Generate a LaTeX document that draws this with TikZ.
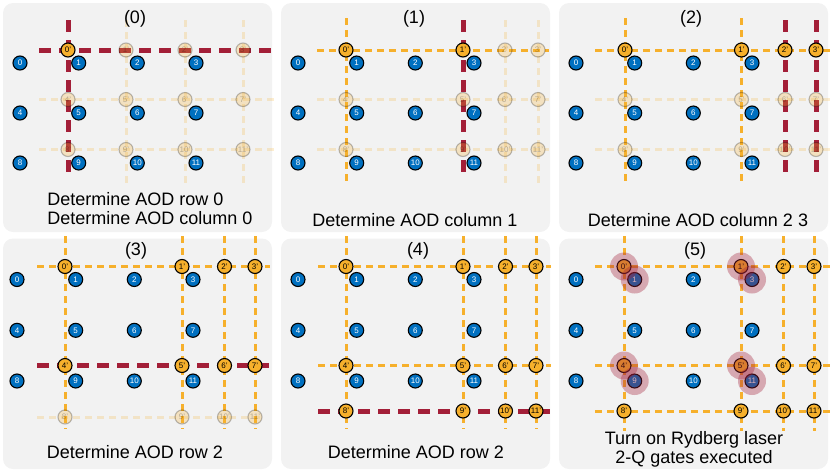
\documentclass[tikz,border=0pt]{standalone}
\usepackage{fontspec}
\setmainfont{Liberation Sans}

\definecolor{panelgray}{HTML}{F2F2F2}
\definecolor{slmblue}{HTML}{0070C0}
\definecolor{aodorange}{HTML}{F6B02C}
\definecolor{pickred}{HTML}{A31F38}

\tikzset{
  panel/.style={fill=panelgray, rounded corners=10pt},
  slm/.style={circle, draw=black, line width=1.1pt, fill=slmblue, text=white,
    minimum size=14pt, inner sep=0pt, font=\fontsize{8}{8}\selectfont},
  aod/.style={slm, fill=aodorange, text=black},
  aodline/.style={aodorange, line width=3pt, dash pattern=on 7pt off 5pt},
  fadeline/.style={aodline, opacity=0.22},
  pickline/.style={pickred, line width=5pt, dash pattern=on 12pt off 8pt},
  halo/.style={fill=pickred, opacity=0.35},
  title/.style={font=\fontsize{18}{20}\selectfont},
  caption/.style={font=\fontsize{18}{19}\selectfont, align=center},
}

% SLM atoms: panel, y of rows 0..2
\newcommand{\slmgrid}[4]{%
  \foreach \rw/\y in {0/#2,1/#3,2/#4}
    \foreach \cl/\x in {0/17,1/75.7,2/134.3,3/193} {
      \pgfmathtruncatemacro\n{4*\rw+\cl}
      \node[slm] (#1s\n) at (\x,\y) {\n};
    }}

% AOD atoms: panel, number lit, x of columns 0..3, y of rows 0..2
\newcommand{\aodgrid}[9]{%
  \foreach \rw/\y in {0/#7,1/#8,2/#9}
    \foreach \cl/\x in {0/#3,1/#4,2/#5,3/#6} {
      \pgfmathtruncatemacro\n{4*\rw+\cl}
      \ifnum\n<#2 \def\op{1}\else\def\op{0.25}\fi
      \node[aod, opacity=\op] (#1a\n) at (\x,\y) {\n'};
    }}

\begin{document}
\begin{tikzpicture}[x=1pt,y=-1pt]
  \useasboundingbox (0,0) rectangle (830,472);

  \foreach \px in {3,281,559} {
    \fill[panel] (\px,3) rectangle ++(269,229);
    \fill[panel] (\px,238.5) rectangle ++(269,230.5);
  }

  % (0)
  \begin{scope}[shift={(3,3)}]
    \foreach \y in {96.5,146.5} \draw[fadeline] (36,\y) -- (274,\y);
    \foreach \x in {123,182,240} \draw[fadeline] (\x,17) -- (\x,180);
    \draw[pickline] (36,47) -- (274,47);
    \draw[pickline] (65,17) -- (65,174);
    \aodgrid{p0}{1}{65}{123}{182}{240}{47}{96.5}{146.5}
    \slmgrid{p0}{60}{110}{160}
    \node[title] (t0) at (132,15.5) {(0)};
    \node[caption, align=left] (c0) at (147,206) {Determine AOD row 0\\Determine AOD column 0};
  \end{scope}

  % (1)
  \begin{scope}[shift={(281,3)}]
    \foreach \y in {96.5,146.5} \draw[fadeline] (36,\y) -- (268,\y);
    \foreach \x in {224,257} \draw[fadeline] (\x,17) -- (\x,180);
    \draw[aodline] (36,47) -- (268,47);
    \draw[aodline] (65,15) -- (65,180);
    \draw[pickline] (182,17) -- (182,174);
    \aodgrid{p1}{2}{65}{182}{224}{257}{47}{96.5}{146.5}
    \slmgrid{p1}{60}{110}{160}
    \node[title] (t1) at (133,15.5) {(1)};
    \node[caption] (c1) at (134,217) {Determine AOD column 1};
  \end{scope}

  % (2)
  \begin{scope}[shift={(559,3)}]
    \foreach \y in {96.5,146.5} \draw[fadeline] (36,\y) -- (271,\y);
    \draw[aodline] (36,47) -- (271,47);
    \foreach \x in {66,182.5} \draw[aodline] (\x,15) -- (\x,180);
    \foreach \x in {226,257} \draw[pickline] (\x,17) -- (\x,174);
    \aodgrid{p2}{4}{66}{182.5}{226}{257}{47}{96.5}{146.5}
    \slmgrid{p2}{60}{110}{160}
    \node[title] (t2) at (132,15.5) {(2)};
    \node[caption] (c2) at (139,217) {Determine AOD column 2 3};
  \end{scope}

  % (3)
  \begin{scope}[shift={(0,239)}]
    \foreach \x in {65,182,224.5,255} \draw[aodline] (\x,-3) -- (\x,190);
    \draw[aodline] (37,27.5) -- (270,27.5);
    \draw[fadeline] (37,178) -- (263,178);
    \draw[pickline] (37,126.5) -- (270,126.5);
    \aodgrid{p3}{8}{65}{182}{224.5}{255}{27.5}{126.5}{178}
    \slmgrid{p3}{40.5}{91.3}{142}
    \node[title] (t3) at (136,12) {(3)};
    \node[caption] (c3) at (135,213) {Determine AOD row 2};
  \end{scope}

  % (4)
  \begin{scope}[shift={(281,239)}]
    \foreach \x in {65,182,224.5,255} \draw[aodline] (\x,-3) -- (\x,190);
    \foreach \y in {27.5,126.5} \draw[aodline] (37,\y) -- (270,\y);
    \draw[pickline] (37,172) -- (270,172);
    \aodgrid{p4}{12}{65}{182}{224.5}{255}{27.5}{126.5}{172}
    \slmgrid{p4}{40.5}{91.3}{142}
    \node[title] (t4) at (137,12) {(4)};
    \node[caption] (c4) at (135,213.5) {Determine AOD row 2};
  \end{scope}

  % (5)
  \begin{scope}[shift={(559,239)}]
    \foreach \x in {65,182,224.5,255} \draw[aodline] (\x,-3) -- (\x,192);
    \foreach \y in {27.5,126.5,172} \draw[aodline] (36,\y) -- (272,\y);
    \aodgrid{p5}{12}{65}{182}{224.5}{255}{27.5}{126.5}{172}
    \slmgrid{p5}{40.5}{91.3}{142}
    \foreach \at in {p5a0,p5s1,p5a1,p5s3,p5a4,p5s9,p5a5,p5s11}
      \fill[halo] (\at.center) circle (14pt);
    \node[title] (t5) at (136,12) {(5)};
    \node[caption] (c5) at (135,210.3) {Turn on Rydberg laser\\2-Q gates executed};
  \end{scope}
\end{tikzpicture}
\end{document}
